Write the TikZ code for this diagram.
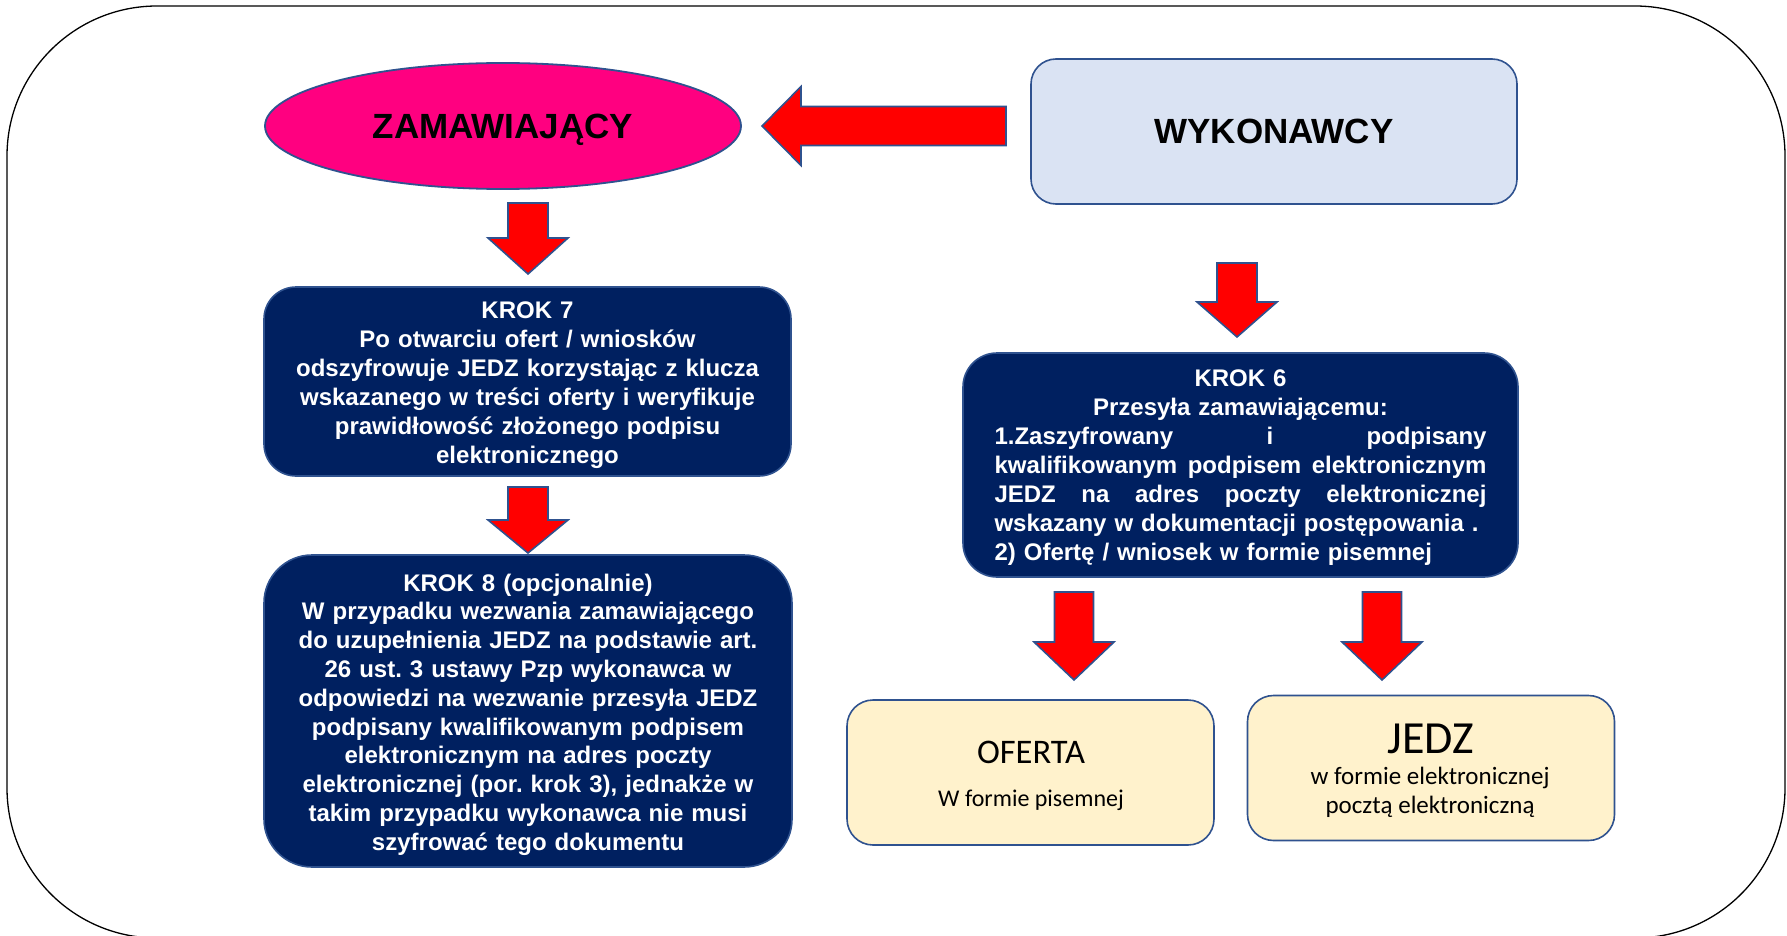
\documentclass[tikz,border=0pt]{standalone}
\usepackage{fontspec}
\setmainfont{Liberation Sans}
\newfontfamily\calib{Carlito}
\usetikzlibrary{shapes.geometric}
\definecolor{bord}{RGB}{47,82,143}
\definecolor{mag}{RGB}{255,0,128}
\definecolor{navy}{RGB}{0,32,96}
\definecolor{lblue}{RGB}{218,227,243}
\definecolor{lyel}{RGB}{255,242,204}
\definecolor{ared}{RGB}{255,0,0}
\tikzset{
  blockarrow/.style={fill=ared, draw=bord, line width=1.6pt, line join=miter},
  darkbox/.style={rectangle, draw=bord, fill=navy, line width=1.6pt, text=white,
    font=\fontsize{24}{29}\selectfont\bfseries\frenchspacing, inner sep=0pt},
  titletext/.style={font=\fontsize{35}{42}\selectfont\bfseries, text depth=0pt, text height=25pt},
  yelbox/.style={rectangle, rounded corners=26pt, draw=bord, fill=lyel, line width=1.6pt},
  pics/downarr/.style args={#1/#2/#3/#4}{code={
    \draw[blockarrow] (-#1,0) -- (#1,0) -- (#1,#4-#3) -- (#2,#4-#3) -- (0,#4)
      -- (-#2,#4-#3) -- (-#1,#4-#3) -- cycle;}},
}
\begin{document}
\begin{tikzpicture}[x=1pt,y=-1pt]
\useasboundingbox (0,0) rectangle (1787,936);
% outer frame
\begin{scope}
\clip (0,0) rectangle (1787,936);
\draw[line width=1.3pt, rounded corners=150pt] (7,6) rectangle (1785,938);
\end{scope}

% top row
\node[ellipse, draw=bord, fill=mag, line width=1.8pt, minimum width=476pt,
  minimum height=126pt, inner sep=0pt, titletext] (zam) at (503,126) {ZAMAWIAJĄCY};
\node[rectangle, rounded corners=25pt, draw=bord, fill=lblue, line width=1.6pt,
  minimum width=486pt, minimum height=145pt, inner sep=0pt, titletext] (wyk) at (1274,131.5) {WYKONAWCY};

% left arrow from WYKONAWCY to ZAMAWIAJACY
\draw[blockarrow] (1006,106.5) -- (801,106.5) -- (801,86.5) -- (762,126)
  -- (801,165.5) -- (801,145.5) -- (1006,145.5) -- cycle;

% left column
\pic at (528,203) {downarr={20/40/36/71}};
\node[darkbox, rounded corners=32pt, minimum width=527pt, minimum height=189pt,
  text width=510pt, align=center] (k7) at (527.5,381.5) {};
\node[darkbox, draw=none, fill=none, text width=510pt, align=center] (k7t) at (527.5,385)
  {KROK 7\\Po otwarciu ofert / wniosków\\odszyfrowuje JEDZ korzystając z klucza\\wskazanego w treści oferty i weryfikuje\\prawidłowość złożonego podpisu\\elektronicznego};
\pic at (528,487) {downarr={20/40/33/66}};
\node[darkbox, rounded corners=48pt, minimum width=528pt, minimum height=312pt] (k8) at (528,711) {};
\node[darkbox, draw=none, fill=none, text width=510pt, align=center,
  font=\fontsize{24}{28.8}\selectfont\bfseries\frenchspacing] (k8t) at (528,714.5)
  {KROK 8 (opcjonalnie)\\W przypadku wezwania zamawiającego\\do uzupełnienia JEDZ na podstawie art.\\26 ust. 3 ustawy Pzp wykonawca w\\odpowiedzi na wezwanie przesyła JEDZ\\podpisany kwalifikowanym podpisem\\elektronicznym na adres poczty\\elektronicznej (por. krok 3), jednakże w\\takim przypadku wykonawca nie musi\\szyfrować tego dokumentu};

% right column
\pic at (1237,263) {downarr={20/40/35/74}};
\node[darkbox, rounded corners=34pt, minimum width=555pt, minimum height=224pt] (k6) at (1240.5,465) {};
\node[darkbox, draw=none, fill=none, text width=492pt, align=left] (k6t) at (1240.5,468)
  {\makebox[492pt][c]{KROK 6}\\
   \makebox[492pt][c]{Przesyła zamawiającemu:}\\
   \makebox[492pt][l]{1.Zaszyfrowany\hfill i\hfill podpisany}\\
   \makebox[492pt][l]{kwalifikowanym\hfill podpisem\hfill elektronicznym}\\
   \makebox[492pt][l]{JEDZ\hfill na\hfill adres\hfill poczty\hfill elektronicznej}\\
   wskazany w dokumentacji postępowania .\\
   2) Ofertę / wniosek w formie pisemnej};

\pic at (1074,592) {downarr={19.5/40/38/88}};
\pic at (1382,592) {downarr={19.5/40/38/88}};

\node[yelbox, minimum width=367pt, minimum height=145pt] (of) at (1030.5,772.5) {};
\node[anchor=base, inner sep=0pt, font=\calib\fontsize{34.5}{40}\selectfont] (oft) at (1031,763) {OFERTA};
\node[anchor=base, inner sep=0pt, font=\calib\fontsize{24}{29}\selectfont] (ofs) at (1031,806) {W formie pisemnej};

\node[yelbox, minimum width=367pt, minimum height=145pt] (je) at (1431,768) {};
\node[anchor=base, inner sep=0pt, font=\calib\fontsize{46}{54}\selectfont] (jet) at (1431,753) {JEDZ};
\node[anchor=base, inner sep=0pt, font=\calib\fontsize{25}{30}\selectfont] (jes1) at (1430,784) {w formie elektronicznej};
\node[anchor=base, inner sep=0pt, font=\calib\fontsize{25}{30}\selectfont] (jes2) at (1430,813) {pocztą elektroniczną};
\end{tikzpicture}
\end{document}
